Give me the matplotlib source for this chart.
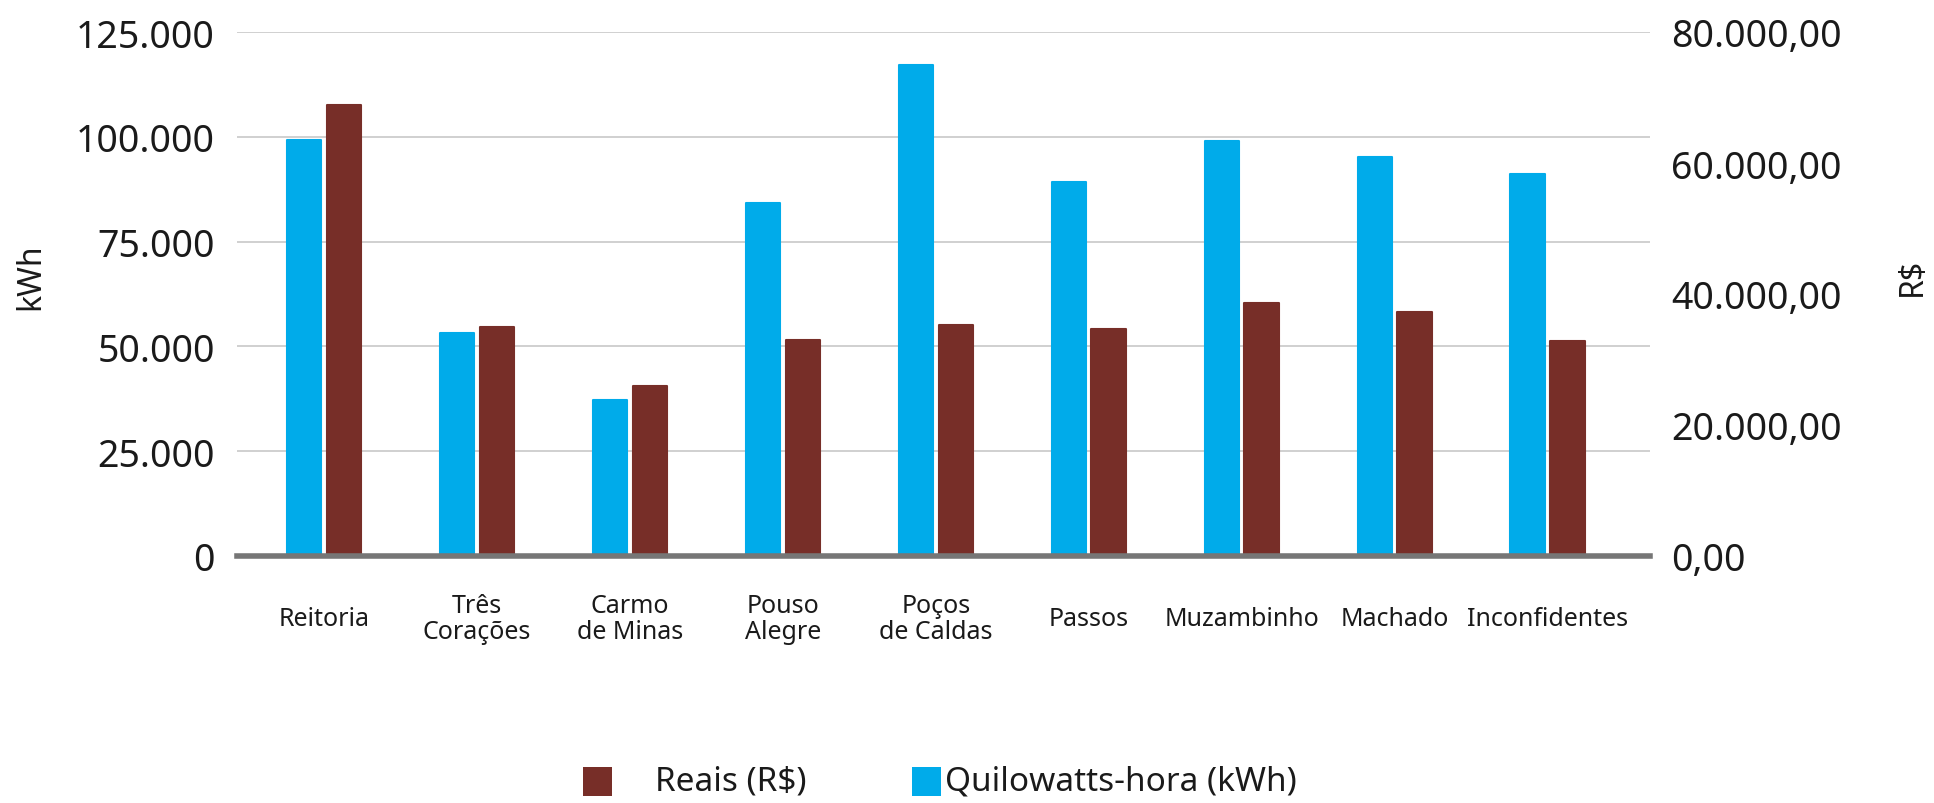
import matplotlib
matplotlib.use("Agg")
import matplotlib.pyplot as plt
import numpy as np
from matplotlib.patches import Rectangle

categories = ["Reitoria", "Três\nCorações", "Carmo\nde Minas", "Pouso\nAlegre",
              "Poços\nde Caldas", "Passos", "Muzambinho", "Machado", "Inconfidentes"]
kwh = [99200, 53200, 37300, 84300, 117200, 89100, 98900, 95200, 91100]
reais = [68900, 34900, 25900, 32950, 35200, 34700, 38700, 37300, 32900]
left_ticks = [0, 25000, 50000, 75000, 100000, 125000]
right_ticks = [0, 20000, 40000, 60000, 80000]
legend_labels = ["Reais (R$)", "Quilowatts-hora (kWh)"]

BLUE = "#00ABEA"
BROWN = "#772E28"
TXT = "#1a1a1a"

plt.rcParams['font.family'] = ['Noto Sans', 'DejaVu Sans']

W, H = 1934, 804
fig = plt.figure(figsize=(W/100, H/100), dpi=100)
ax = fig.add_axes([237/W, 1-557/H, (1650-237)/W, (557-33)/H])
ax2 = ax.twinx()

x = np.arange(len(categories))
w = 0.225
off = 0.13

b1 = ax.bar(x - off, kwh, w, color=BLUE, edgecolor=BLUE, linewidth=1.5)
b2 = ax2.bar(x + off, reais, w, color=BROWN, edgecolor=BROWN, linewidth=1.5)
for p in list(b1) + list(b2):
    p.set_joinstyle('round')

ax.set_xlim(-0.57, 8.67)
ax.set_ylim(0, 125000)
ax2.set_ylim(0, 80000)

ax.set_yticks(left_ticks)
ax.set_yticklabels([f"{v:,}".replace(",", ".") for v in left_ticks])
ax2.set_yticks(right_ticks)
ax2.set_yticklabels([f"{v:,.2f}".replace(",", "X").replace(".", ",").replace("X", ".")
                     for v in right_ticks])

ax.grid(axis='y', color='#c4c4c4', linewidth=1.1)
ax.set_axisbelow(True)
for a in (ax, ax2):
    for s in a.spines.values():
        s.set_visible(False)
ax.tick_params(axis='y', length=0, pad=16, labelsize=27, labelcolor=TXT)
ax2.tick_params(axis='y', length=0, pad=15, labelsize=27, labelcolor=TXT)

ax.set_xticks(x)
ax.set_xticklabels(categories, fontsize=18, color=TXT, linespacing=1.05)
ax.tick_params(axis='x', length=0, pad=45)
for t in ax.get_xticklabels():
    t.set_verticalalignment('center')

ax2.axhline(0, color='#767676', linewidth=4, zorder=5, clip_on=False)

fig.text(31/W, 1-277/H, "kWh", rotation=90, ha='center', va='center',
         fontsize=23, color=TXT)
fig.text(1912/W, 1-277/H, "R$", rotation=90, ha='center', va='center',
         fontsize=23, color=TXT)

# legend (manual layout)
fig.add_artist(Rectangle((583/W, 1-797/H), 29/W, 29/H, transform=fig.transFigure,
                         facecolor=BROWN, edgecolor='none'))
fig.text(655/W, 1-782/H, legend_labels[0], ha='left', va='center', fontsize=24, color=TXT)
fig.add_artist(Rectangle((912/W, 1-797/H), 29/W, 29/H, transform=fig.transFigure,
                         facecolor=BLUE, edgecolor='none'))
fig.text(945/W, 1-782/H, legend_labels[1], ha='left', va='center', fontsize=24, color=TXT)

fig.savefig("out.png", dpi=100)
